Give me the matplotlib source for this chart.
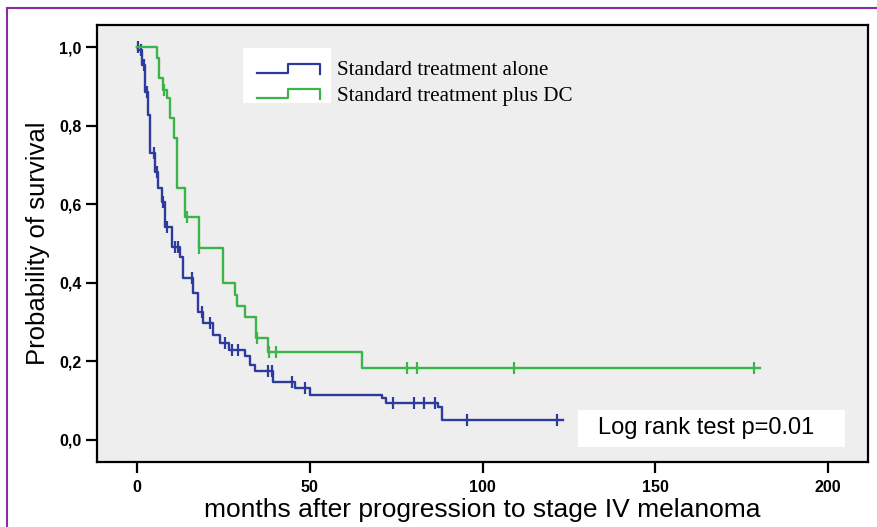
import numpy as np
import matplotlib.pyplot as plt
from matplotlib.lines import Line2D
from matplotlib.patches import Rectangle

# Kaplan-Meier steps (months, survival)
blue_t = [0, 0.4, 1.4, 2.3, 3.3, 3.8, 5.2, 6.2, 7.1, 8.1, 10.0, 12.4, 13.3, 16.2, 17.7,
          19.1, 22.0, 24.0, 26.5, 31.3, 32.7, 34.2, 39.4, 45.7, 50.1, 70.9, 72.1, 87.1, 88.3]
blue_s = [1.0, 0.992, 0.954, 0.886, 0.827, 0.730, 0.683, 0.641, 0.606, 0.543, 0.492, 0.466,
          0.412, 0.374, 0.326, 0.298, 0.267, 0.247, 0.229, 0.214, 0.191, 0.176, 0.148, 0.132,
          0.115, 0.107, 0.095, 0.085, 0.052]
blue_end = 123.3
blue_cens = [0.2, 1.0, 2.0, 3.0, 5.0, 5.7, 7.6, 8.6, 11.0, 11.9, 15.9, 18.8, 21.1, 25.5,
             27.5, 29.2, 38.0, 39.0, 44.9, 48.6, 74.1, 80.2, 83.1, 86.3, 95.5, 121.6]

green_t = [0, 5.8, 6.3, 7.4, 8.6, 9.6, 10.8, 11.7, 13.9, 17.8, 24.9, 28.4, 29.0, 31.3,
           34.4, 38.0, 65.1]
green_s = [1.0, 0.972, 0.921, 0.891, 0.870, 0.819, 0.768, 0.641, 0.567, 0.489, 0.399,
           0.369, 0.341, 0.313, 0.260, 0.224, 0.183]
green_end = 180.3
green_cens = [7.8, 14.4, 17.9, 34.8, 38.3, 40.2, 78.1, 81.0, 109.1, 178.6]

labels = ["Standard treatment alone", "Standard treatment plus DC"]
xticks = [0, 50, 100, 150, 200]
yticks = [0.0, 0.2, 0.4, 0.6, 0.8, 1.0]
ytick_labels = ["0,0", "0,2", "0,4", "0,6", "0,8", "1,0"]

BLUE = "#2d3b9c"
GREEN = "#3bb54a"


def km_curve(ax, t, s, end, cens, color):
    t = np.asarray(t)
    s = np.asarray(s)
    ax.step(np.append(t, end), np.append(s, s[-1]), where="post", color=color, lw=1.7)
    idx = np.searchsorted(t, cens, side="right") - 1
    ax.plot(cens, s[idx], ls="none", marker="|", ms=8, mew=1.6, color=color)


fig = plt.figure(figsize=(8.77, 5.27), dpi=100)
ax = fig.add_axes([97 / 877, 1 - 462 / 527, 771 / 877, 437 / 527])
ax.set_facecolor("#eeeeee")

km_curve(ax, blue_t, blue_s, blue_end, blue_cens, BLUE)
km_curve(ax, green_t, green_s, green_end, green_cens, GREEN)

ax.set_xlim(-11.6, 211.6)
ax.set_ylim(-0.056, 1.056)
ax.set_xticks(xticks)
ax.set_yticks(yticks)
ax.set_yticklabels(ytick_labels)
for sp in ax.spines.values():
    sp.set_linewidth(1.6)
ax.tick_params(direction="out", length=8, width=1.6, labelsize=11.5)
ax.tick_params(axis="x", pad=5)
ax.tick_params(axis="y", pad=3)
for lab in ax.get_xticklabels() + ax.get_yticklabels():
    lab.set_fontfamily("Liberation Sans")
    lab.set_fontweight("bold")

ax.set_xlabel("months after progression to stage IV melanoma", family="Liberation Sans",
              fontsize=19, labelpad=2)
ax.set_ylabel("Probability of survival", family="Liberation Sans", fontsize=18.5, labelpad=7)

# legend: white box with step icons, text outside to the right
ax.add_patch(Rectangle((0.189, 0.821), 0.115, 0.126, transform=ax.transAxes,
                       facecolor="white", edgecolor="none", zorder=3))
for yb, col in [(0.891, BLUE), (0.833, GREEN)]:
    ax.add_line(Line2D([0.207, 0.248, 0.248, 0.289, 0.289],
                       [yb, yb, yb + 0.02, yb + 0.02, yb - 0.003],
                       transform=ax.transAxes, color=col, lw=1.6, zorder=4))
for yb, lab in [(0.891, labels[0]), (0.833, labels[1])]:
    ax.text(0.311, yb + 0.004, lab, transform=ax.transAxes, family="Liberation Serif",
            fontsize=15.2, va="center", ha="left")

# log rank box
ax.add_patch(Rectangle((0.624, 0.034), 0.346, 0.085, transform=ax.transAxes,
                       facecolor="white", edgecolor="none", zorder=3))
ax.text(0.790, 0.078, "Log rank test p=0.01", transform=ax.transAxes,
        family="Liberation Sans", fontsize=17, ha="center", va="center", zorder=4)

# purple frame
fig.add_artist(Line2D([7 / 877, 1.0], [1 - 8 / 527, 1 - 8 / 527], color="#8a2d9c", lw=1.5))
fig.add_artist(Line2D([7 / 877, 7 / 877], [0, 1 - 8 / 527], color="#8a2d9c", lw=1.5))

fig.savefig("out.png", dpi=100)
